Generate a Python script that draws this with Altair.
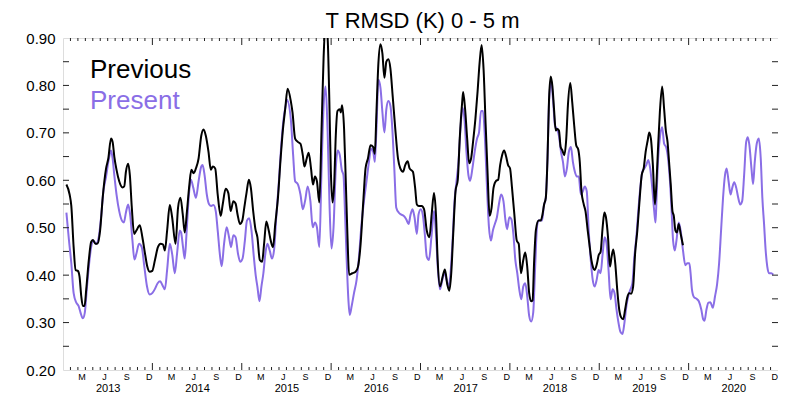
import altair as alt
import pandas as pd

TITLE = "T RMSD (K) 0 - 5 m"
SERIES = ["Previous", "Present"]
COLORS = ["#000000", "#8a6ee6"]
FIRST_YEAR = 2013
N_YEARS = 8
MONTH_NAMES = ["J", "F", "M", "A", "M", "J", "J", "A", "S", "O", "N", "D"]
LABELLED_MONTHS = [2, 5, 8, 11]
Y_LABELS = [0.2, 0.3, 0.4, 0.5, 0.6, 0.7, 0.8, 0.9]
Y_MINOR = [0.25, 0.3, 0.35, 0.4, 0.45, 0.5, 0.55, 0.6, 0.65, 0.7, 0.75, 0.8, 0.85]

# (years since 1 Jan 2013, RMSD in K)
PREVIOUS = [
    (0.038,0.591),(0.074,0.570),(0.093,0.546),(0.119,0.459),(0.141,0.411),(0.166,0.409),(0.185,0.397),(0.204,0.356),
    (0.222,0.335),(0.241,0.335),(0.260,0.370),(0.289,0.432),(0.315,0.470),(0.333,0.474),(0.363,0.466),(0.388,0.467),
    (0.415,0.494),(0.444,0.563),(0.482,0.625),(0.507,0.646),(0.537,0.688),(0.555,0.681),(0.574,0.650),(0.599,0.622),
    (0.629,0.598),(0.666,0.585),(0.685,0.587),(0.704,0.618),(0.729,0.635),(0.748,0.611),(0.770,0.542),(0.796,0.487),
    (0.821,0.494),(0.859,0.505),(0.888,0.480),(0.918,0.445),(0.943,0.418),(0.970,0.407),(0.999,0.409),(1.029,0.432),
    (1.062,0.459),(1.092,0.466),(1.118,0.465),(1.140,0.452),(1.165,0.494),(1.195,0.548),(1.221,0.522),(1.259,0.466),
    (1.287,0.542),(1.314,0.563),(1.340,0.528),(1.362,0.490),(1.387,0.535),(1.414,0.591),(1.436,0.622),(1.462,0.615),
    (1.487,0.625),(1.517,0.646),(1.547,0.694),(1.573,0.707),(1.598,0.694),(1.628,0.660),(1.654,0.622),(1.676,0.629),
    (1.703,0.625),(1.731,0.570),(1.765,0.525),(1.787,0.549),(1.820,0.582),(1.850,0.573),(1.876,0.535),(1.906,0.556),
    (1.931,0.551),(1.953,0.528),(1.980,0.508),(2.006,0.515),(2.028,0.542),(2.053,0.573),(2.080,0.601),(2.102,0.584),
    (2.128,0.535),(2.153,0.497),(2.175,0.480),(2.202,0.432),(2.228,0.428),(2.250,0.466),(2.275,0.513),(2.302,0.494),
    (2.324,0.473),(2.350,0.459),(2.375,0.508),(2.405,0.563),(2.435,0.646),(2.461,0.708),(2.486,0.750),(2.513,0.793),
    (2.549,0.767),(2.568,0.743),(2.597,0.688),(2.627,0.681),(2.657,0.677),(2.683,0.653),(2.701,0.629),(2.727,0.646),
    (2.749,0.658),(2.775,0.625),(2.797,0.591),(2.819,0.608),(2.841,0.598),(2.868,0.553),(2.893,0.708),(2.916,0.860),
    (2.935,0.925),(2.960,0.902),(2.979,0.777),(2.997,0.618),(3.016,0.553),(3.034,0.591),(3.052,0.694),(3.071,0.746),
    (3.097,0.750),(3.108,0.743),(3.123,0.758),(3.145,0.708),(3.163,0.605),(3.182,0.487),(3.201,0.401),(3.237,0.404),
    (3.274,0.407),(3.301,0.418),(3.330,0.466),(3.360,0.556),(3.385,0.625),(3.412,0.646),(3.441,0.674),(3.471,0.670),
    (3.489,0.656),(3.507,0.743),(3.529,0.847),(3.552,0.887),(3.574,0.867),(3.596,0.816),(3.618,0.850),(3.640,0.855),
    (3.663,0.836),(3.689,0.777),(3.718,0.708),(3.748,0.646),(3.774,0.625),(3.804,0.618),(3.829,0.632),(3.856,0.640),
    (3.878,0.625),(3.915,0.618),(3.940,0.584),(3.959,0.549),(3.981,0.546),(4.014,0.546),(4.040,0.539),(4.070,0.494),
    (4.100,0.480),(4.125,0.528),(4.151,0.573),(4.173,0.528),(4.192,0.432),(4.218,0.376),(4.248,0.397),(4.273,0.412),
    (4.300,0.380),(4.322,0.367),(4.344,0.404),(4.366,0.487),(4.392,0.577),(4.417,0.601),(4.439,0.688),(4.466,0.764),
    (4.477,0.786),(4.499,0.750),(4.522,0.688),(4.544,0.636),(4.566,0.646),(4.588,0.681),(4.614,0.729),(4.639,0.788),
    (4.661,0.847),(4.684,0.885),(4.706,0.833),(4.728,0.722),(4.750,0.618),(4.773,0.525),(4.795,0.542),(4.817,0.584),
    (4.847,0.599),(4.869,0.601),(4.891,0.632),(4.913,0.653),(4.936,0.663),(4.958,0.650),(4.980,0.632),(5.002,0.625),
    (5.024,0.584),(5.050,0.528),(5.077,0.473),(5.099,0.466),(5.124,0.404),(5.150,0.432),(5.172,0.448),(5.194,0.418),
    (5.216,0.362),(5.238,0.345),(5.254,0.347),(5.272,0.432),(5.291,0.495),(5.321,0.515),(5.346,0.515),(5.365,0.528),
    (5.383,0.549),(5.402,0.563),(5.421,0.646),(5.438,0.770),(5.457,0.819),(5.476,0.798),(5.494,0.750),(5.513,0.705),
    (5.531,0.708),(5.549,0.705),(5.568,0.670),(5.587,0.663),(5.609,0.653),(5.631,0.688),(5.649,0.757),(5.676,0.805),
    (5.698,0.764),(5.720,0.715),(5.742,0.674),(5.765,0.665),(5.782,0.639),(5.801,0.577),(5.827,0.549),(5.846,0.535),
    (5.871,0.494),(5.894,0.459),(5.912,0.432),(5.931,0.416),(5.949,0.411),(5.975,0.425),(5.993,0.442),(6.015,0.449),
    (6.038,0.501),(6.057,0.532),(6.075,0.522),(6.098,0.480),(6.120,0.418),(6.138,0.439),(6.157,0.454),(6.179,0.425),
    (6.201,0.370),(6.223,0.328),(6.245,0.311),(6.268,0.307),(6.290,0.328),(6.312,0.352),(6.334,0.362),(6.356,0.361),
    (6.379,0.376),(6.401,0.445),(6.426,0.494),(6.453,0.563),(6.475,0.611),(6.497,0.625),(6.519,0.660),(6.542,0.684),
    (6.559,0.701),(6.578,0.688),(6.600,0.632),(6.623,0.549),(6.641,0.598),(6.659,0.674),(6.678,0.743),(6.704,0.798),
    (6.726,0.750),(6.745,0.705),(6.764,0.681),(6.781,0.639),(6.800,0.591),(6.819,0.535),(6.834,0.525),(6.852,0.494),
    (6.870,0.490),(6.889,0.508),(6.911,0.487),(6.937,0.463),
]

PRESENT = [
    (0.038,0.532),(0.067,0.473),(0.093,0.425),(0.119,0.362),(0.149,0.342),(0.174,0.335),(0.196,0.321),(0.222,0.309),
    (0.244,0.321),(0.266,0.370),(0.289,0.418),(0.315,0.459),(0.341,0.473),(0.371,0.466),(0.400,0.480),(0.426,0.522),
    (0.452,0.577),(0.482,0.608),(0.511,0.643),(0.537,0.663),(0.555,0.646),(0.574,0.611),(0.599,0.570),(0.629,0.535),
    (0.659,0.515),(0.681,0.511),(0.704,0.532),(0.729,0.549),(0.751,0.528),(0.777,0.473),(0.799,0.433),(0.821,0.445),
    (0.851,0.466),(0.881,0.459),(0.910,0.418),(0.940,0.376),(0.970,0.359),(0.999,0.362),(1.029,0.371),(1.059,0.383),
    (1.088,0.387),(1.110,0.380),(1.140,0.370),(1.165,0.411),(1.195,0.466),(1.221,0.445),(1.251,0.404),(1.276,0.445),
    (1.306,0.494),(1.321,0.490),(1.343,0.459),(1.362,0.435),(1.384,0.494),(1.406,0.563),(1.432,0.601),(1.458,0.584),
    (1.487,0.563),(1.517,0.598),(1.547,0.629),(1.562,0.632),(1.584,0.611),(1.609,0.570),(1.636,0.549),(1.658,0.546),
    (1.684,0.548),(1.709,0.535),(1.731,0.494),(1.758,0.439),(1.776,0.419),(1.802,0.466),(1.831,0.501),(1.858,0.480),
    (1.880,0.459),(1.906,0.484),(1.931,0.480),(1.958,0.445),(1.983,0.428),(2.009,0.435),(2.035,0.473),(2.058,0.515),
    (2.083,0.520),(2.109,0.494),(2.135,0.439),(2.158,0.397),(2.175,0.376),(2.198,0.345),(2.220,0.376),(2.242,0.404),
    (2.264,0.445),(2.286,0.466),(2.313,0.452),(2.338,0.435),(2.361,0.452),(2.386,0.522),(2.413,0.591),(2.442,0.674),
    (2.468,0.729),(2.491,0.757),(2.505,0.770),(2.549,0.729),(2.575,0.653),(2.597,0.598),(2.627,0.592),(2.657,0.570),
    (2.683,0.539),(2.708,0.556),(2.738,0.587),(2.768,0.556),(2.794,0.501),(2.819,0.511),(2.841,0.501),(2.868,0.459),
    (2.893,0.625),(2.916,0.757),(2.938,0.798),(2.960,0.708),(2.982,0.549),(3.004,0.456),(3.027,0.501),(3.052,0.625),
    (3.074,0.663),(3.097,0.653),(3.119,0.622),(3.138,0.611),(3.156,0.528),(3.174,0.432),(3.193,0.349),(3.208,0.316),
    (3.230,0.335),(3.256,0.362),(3.285,0.390),(3.312,0.439),(3.337,0.501),(3.367,0.556),(3.396,0.598),(3.423,0.639),
    (3.448,0.667),(3.471,0.660),(3.489,0.639),(3.507,0.708),(3.529,0.812),(3.552,0.795),(3.574,0.743),(3.596,0.701),
    (3.618,0.750),(3.640,0.767),(3.663,0.757),(3.685,0.708),(3.707,0.625),(3.729,0.542),(3.756,0.532),(3.781,0.528),
    (3.811,0.525),(3.840,0.518),(3.867,0.508),(3.889,0.528),(3.911,0.539),(3.933,0.522),(3.959,0.487),(3.978,0.528),
    (4.003,0.539),(4.025,0.528),(4.048,0.487),(4.070,0.439),(4.095,0.432),(4.122,0.480),(4.151,0.535),(4.173,0.487),
    (4.195,0.411),(4.218,0.370),(4.244,0.390),(4.270,0.405),(4.292,0.390),(4.314,0.376),(4.336,0.404),(4.359,0.473),
    (4.381,0.556),(4.403,0.598),(4.425,0.639),(4.447,0.708),(4.470,0.753),(4.492,0.729),(4.514,0.660),(4.536,0.611),
    (4.555,0.599),(4.581,0.625),(4.606,0.660),(4.633,0.688),(4.655,0.701),(4.677,0.746),(4.699,0.746),(4.721,0.688),
    (4.744,0.584),(4.766,0.501),(4.788,0.473),(4.810,0.494),(4.832,0.508),(4.855,0.522),(4.877,0.549),(4.902,0.570),
    (4.928,0.556),(4.951,0.515),(4.969,0.497),(4.994,0.522),(5.017,0.518),(5.039,0.487),(5.061,0.432),(5.083,0.404),
    (5.105,0.370),(5.128,0.349),(5.150,0.376),(5.172,0.383),(5.194,0.356),(5.216,0.314),(5.238,0.302),(5.261,0.321),
    (5.283,0.418),(5.305,0.505),(5.327,0.516),(5.360,0.515),(5.380,0.546),(5.402,0.563),(5.421,0.646),(5.438,0.764),
    (5.461,0.809),(5.483,0.770),(5.505,0.715),(5.527,0.708),(5.549,0.694),(5.572,0.660),(5.594,0.639),(5.616,0.608),
    (5.638,0.625),(5.660,0.660),(5.683,0.670),(5.705,0.639),(5.727,0.618),(5.749,0.608),(5.771,0.608),(5.794,0.570),
    (5.816,0.577),(5.838,0.587),(5.860,0.577),(5.882,0.494),(5.905,0.432),(5.927,0.390),(5.949,0.376),(5.971,0.390),
    (5.993,0.411),(6.015,0.404),(6.038,0.445),(6.060,0.480),(6.082,0.466),(6.104,0.411),(6.127,0.349),(6.149,0.370),
    (6.171,0.362),(6.193,0.328),(6.215,0.300),(6.238,0.280),(6.260,0.276),(6.282,0.300),(6.304,0.335),(6.326,0.357),
    (6.349,0.370),(6.371,0.383),(6.393,0.439),(6.415,0.480),(6.437,0.535),(6.459,0.584),(6.482,0.618),(6.504,0.625),
    (6.526,0.632),(6.548,0.643),(6.570,0.625),(6.593,0.584),(6.615,0.535),(6.630,0.511),(6.641,0.563),(6.659,0.646),
    (6.681,0.694),(6.704,0.712),(6.726,0.677),(6.748,0.670),(6.770,0.646),(6.789,0.605),(6.808,0.542),(6.826,0.473),
    (6.845,0.452),(6.864,0.473),(6.889,0.511),(6.911,0.494),(6.937,0.452),(6.963,0.421),(6.986,0.425),(7.008,0.425),
    (7.022,0.404),(7.037,0.370),(7.059,0.354),(7.089,0.350),(7.114,0.345),(7.141,0.328),(7.163,0.307),(7.178,0.304),
    (7.200,0.328),(7.222,0.342),(7.244,0.343),(7.270,0.331),(7.296,0.356),(7.318,0.380),(7.341,0.425),(7.363,0.494),
    (7.385,0.563),(7.407,0.611),(7.425,0.625),(7.447,0.598),(7.469,0.570),(7.488,0.584),(7.510,0.596),(7.533,0.584),
    (7.555,0.563),(7.577,0.549),(7.599,0.556),(7.621,0.611),(7.644,0.681),(7.662,0.691),(7.680,0.674),(7.703,0.625),
    (7.721,0.592),(7.740,0.639),(7.762,0.677),(7.785,0.688),(7.807,0.646),(7.825,0.563),(7.844,0.508),(7.862,0.452),
    (7.880,0.418),(7.899,0.404),(7.925,0.404),(7.947,0.401),
]

FONT = "Liberation Sans"
FRAME = "#222222"
PAD = {"left": 55, "top": 30, "right": 0, "bottom": 24}
W = 715
H = 386 - PAD["top"] - PAD["bottom"]

prev_df = pd.DataFrame(PREVIOUS, columns=["t", "v"])
pres_df = pd.DataFrame(PRESENT, columns=["t", "v"])

xs = alt.Scale(domain=[0, N_YEARS], nice=False, zero=False)
ys = alt.Scale(domain=[0.2, 0.9], nice=False, zero=False)

month_bounds = pd.DataFrame({"t": [i / 12 for i in range(1, 12 * N_YEARS) if i % 12]})
year_bounds = pd.DataFrame({"t": list(range(1, N_YEARS))})
month_label_pos = [k + (m + 0.5) / 12 for k in range(N_YEARS) for m in LABELLED_MONTHS]
year_label_pos = [k + 0.5 for k in range(N_YEARS)]
ytick_df = pd.DataFrame({"v": Y_MINOR})

names_js = "[" + ",".join("'%s'" % n for n in MONTH_NAMES) + "]"

y_axis = alt.Axis(orient="left", values=Y_LABELS, format=".2f", ticks=False, tickSize=0, domain=False,
                  grid=False, title=None, labelFontSize=15, labelPadding=8, labelFont=FONT,
                  labelColor="black", labelFlush=False, labelOverlap=False)
month_axis = alt.Axis(orient="bottom", values=month_label_pos,
                      labelExpr=names_js + "[floor((datum.value*12)%12)]",
                      ticks=False, tickSize=0, domain=False, grid=False, title=None,
                      labelFontSize=9, labelPadding=2, labelFont=FONT, labelColor="black",
                      labelFlush=False, labelOverlap=False)
year_axis = alt.Axis(orient="bottom", values=year_label_pos,
                     labelExpr="'' + (%d + floor(datum.value))" % FIRST_YEAR,
                     ticks=False, tickSize=0, domain=False, grid=False, title=None,
                     labelFontSize=11, labelPadding=12, labelFont=FONT, labelColor="black",
                     labelFlush=False, labelOverlap=False)

present_line = alt.Chart(pres_df).mark_line(
    color=COLORS[1], strokeWidth=2, clip=True, interpolate="monotone"
).encode(
    x=alt.X("t:Q", scale=xs, axis=None),
    y=alt.Y("v:Q", scale=ys, axis=y_axis),
)
previous_line = alt.Chart(prev_df).mark_line(
    color=COLORS[0], strokeWidth=2, clip=True, interpolate="monotone"
).encode(
    x=alt.X("t:Q", scale=xs, axis=None),
    y=alt.Y("v:Q", scale=ys, axis=None),
)

bottom_minor = alt.Chart(month_bounds).mark_rule(color=FRAME, strokeWidth=1).encode(
    x=alt.X("t:Q", scale=xs, axis=month_axis), y=alt.value(H), y2=alt.value(H - 3))
top_minor = alt.Chart(month_bounds).mark_rule(color=FRAME, strokeWidth=1).encode(
    x=alt.X("t:Q", scale=xs, axis=None), y=alt.value(0), y2=alt.value(3))
bottom_major = alt.Chart(year_bounds).mark_rule(color=FRAME, strokeWidth=1).encode(
    x=alt.X("t:Q", scale=xs, axis=year_axis), y=alt.value(H), y2=alt.value(H - 7))
top_major = alt.Chart(year_bounds).mark_rule(color=FRAME, strokeWidth=1).encode(
    x=alt.X("t:Q", scale=xs, axis=None), y=alt.value(0), y2=alt.value(7))
left_ticks = alt.Chart(ytick_df).mark_rule(color=FRAME, strokeWidth=1).encode(
    y=alt.Y("v:Q", scale=ys, axis=None), x=alt.value(0), x2=alt.value(6))
right_ticks = alt.Chart(ytick_df).mark_rule(color=FRAME, strokeWidth=1).encode(
    y=alt.Y("v:Q", scale=ys, axis=None), x=alt.value(W - 6), x2=alt.value(W))

legend_prev = alt.Chart(pd.DataFrame({"label": [SERIES[0]]})).mark_text(
    align="left", baseline="alphabetic", fontSize=26, font=FONT, color=COLORS[0]
).encode(text="label:N", x=alt.value(27), y=alt.value(40))
legend_pres = alt.Chart(pd.DataFrame({"label": [SERIES[1]]})).mark_text(
    align="left", baseline="alphabetic", fontSize=26, font=FONT, color=COLORS[1]
).encode(text="label:N", x=alt.value(27), y=alt.value(71))
title_text = alt.Chart(pd.DataFrame({"label": [TITLE]})).mark_text(
    align="center", baseline="alphabetic", fontSize=22, font=FONT, color="black"
).encode(text="label:N", x=alt.value(W / 2 + 2), y=alt.value(-10))

chart = alt.layer(
    present_line, previous_line,
    bottom_minor, top_minor, bottom_major, top_major, left_ticks, right_ticks,
    legend_prev, legend_pres, title_text,
).resolve_axis(x="independent", y="independent").properties(
    width=W, height=H,
    padding=PAD,
    autosize=alt.AutoSizeParams(type="none"),
).configure_view(stroke=FRAME, strokeWidth=1).configure(background="white")

chart.save("out.html", embed_options={"renderer": "svg", "actions": False})
